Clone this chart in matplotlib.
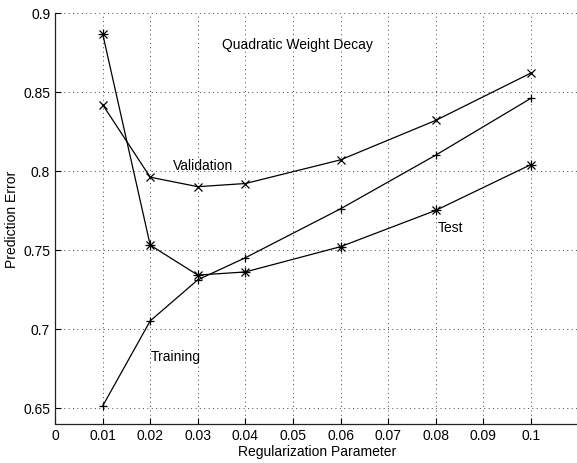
import matplotlib
matplotlib.use("Agg")
import matplotlib.pyplot as plt

x = [0.01, 0.02, 0.03, 0.04, 0.06, 0.08, 0.1]
validation = [0.842, 0.796, 0.790, 0.792, 0.807, 0.832, 0.862]
test = [0.887, 0.753, 0.734, 0.736, 0.752, 0.775, 0.804]
training = [0.651, 0.705, 0.731, 0.745, 0.776, 0.810, 0.846]
xticks = [0, 0.01, 0.02, 0.03, 0.04, 0.05, 0.06, 0.07, 0.08, 0.09, 0.1]
xticklabels = ["0", "0.01", "0.02", "0.03", "0.04", "0.05", "0.06", "0.07", "0.08", "0.09", "0.1"]
yticks = [0.65, 0.7, 0.75, 0.8, 0.85, 0.9]
yticklabels = ["0.65", "0.7", "0.75", "0.8", "0.85", "0.9"]

plt.rcParams['font.family'] = ['Liberation Sans', 'DejaVu Sans']

W, H = 577, 464
fig = plt.figure(figsize=(W / 100, H / 100), dpi=100)
x0, x1 = 55, 55 + 0.11 * 4760
y0, y1 = 424.5, 14
ax = fig.add_axes([x0 / W, 1 - y0 / H, (x1 - x0) / W, (y0 - y1) / H])

kw = dict(color='black', linewidth=0.9, markersize=6, markeredgewidth=0.9)
ax.plot(x, validation, marker='x', **kw)
ax.plot(x, test, marker='x', **kw)
ax.plot(x, test, marker='+', linestyle='none', color='black', markersize=7, markeredgewidth=0.9)
ax.plot(x, training, marker='+', **kw)

ax.set_xlim(0, 0.11)
ax.set_ylim(0.64, 0.9)
ax.set_xticks(xticks)
ax.set_xticklabels(xticklabels)
ax.set_yticks(yticks)
ax.set_yticklabels(yticklabels)
ax.grid(True, linestyle=(0, (1, 3.5)), color='#444444', linewidth=0.7)
ax.tick_params(direction='in', length=4, labelsize=10, colors='black', width=0.8)
for s in ['top', 'right']:
    ax.spines[s].set_visible(False)
for s in ['left', 'bottom']:
    ax.spines[s].set_color('#222222')
    ax.spines[s].set_linewidth(0.9)

ax.set_xlabel("Regularization Parameter", fontsize=10, labelpad=1)
ax.set_ylabel("Prediction Error", fontsize=10, labelpad=3)

fs = 10
ax.text(0.0351, 0.8805, "Quadratic Weight Decay", fontsize=fs, va='center', ha='left')
ax.text(0.0247, 0.8035, "Validation", fontsize=fs, va='center', ha='left')
ax.text(0.0805, 0.7645, "Test", fontsize=fs, va='center', ha='left')
ax.text(0.0202, 0.6830, "Training", fontsize=fs, va='center', ha='left')

fig.savefig("out.png", dpi=100)
